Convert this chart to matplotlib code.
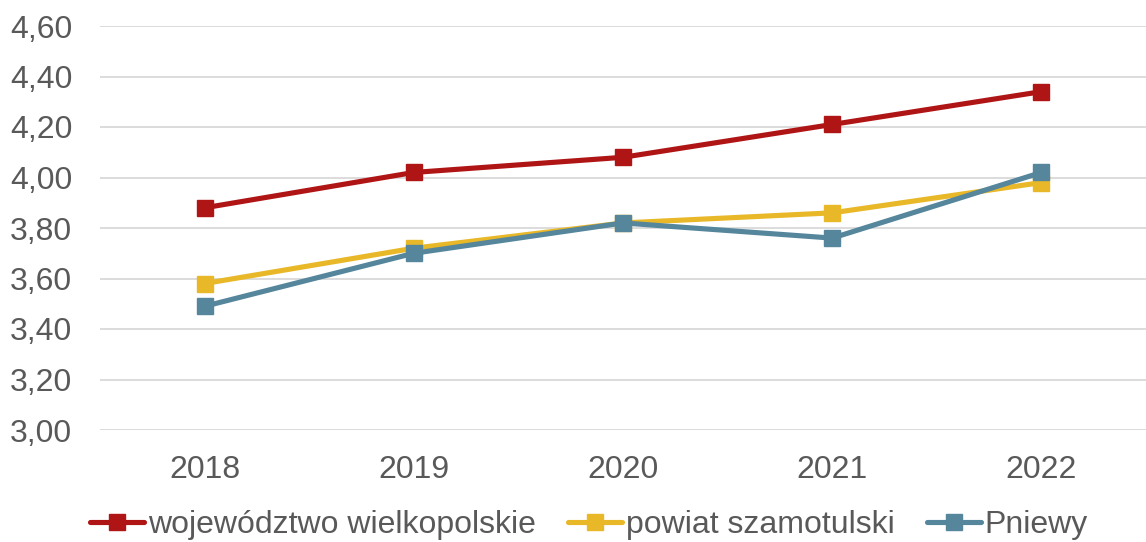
import numpy as np
import matplotlib.pyplot as plt
from matplotlib.ticker import FuncFormatter

plt.rcParams['font.family'] = ['Liberation Sans', 'DejaVu Sans']

# years and series values
years = ['2018', '2019', '2020', '2021', '2022']
wielkopolskie = [3.88, 4.02, 4.08, 4.21, 4.34]
szamotulski = [3.58, 3.72, 3.82, 3.86, 3.98]
pniewy = [3.49, 3.70, 3.82, 3.76, 4.02]

series = [
    ('województwo wielkopolskie', wielkopolskie, '#B01516'),
    ('powiat szamotulski', szamotulski, '#E8B829'),
    ('Pniewy', pniewy, '#55869C'),
]

W, H = 1146, 542
fig = plt.figure(figsize=(W / 100, H / 100), dpi=100)
ax = fig.add_axes([100 / W, (H - 430) / H, 1046 / W, 404 / H])

x = np.arange(len(years))
for name, vals, col in series:
    ax.plot(x, vals, color=col, lw=3.7, marker='s', markersize=11,
            label=name, solid_capstyle='round')

ax.set_ylim(3.0, 4.6)
ax.set_xlim(-0.5, len(years) - 0.5)
ax.set_yticks(np.arange(3.0, 4.61, 0.2))
ax.yaxis.set_major_formatter(FuncFormatter(lambda v, p: f'{v:.2f}'.replace('.', ',')))
ax.set_xticks(x)
ax.set_xticklabels(years)

ax.grid(axis='y', color='#D9D9D9', lw=1.3)
ax.set_axisbelow(True)
for s in ax.spines.values():
    s.set_visible(False)
ax.tick_params(length=0, labelsize=23, colors='#595959')
ax.tick_params(axis='y', pad=20)
ax.tick_params(axis='x', pad=18)

# legend along the bottom edge
leg = fig.legend(loc='lower center', bbox_to_anchor=(0.5 + 16 / W, -0.05), ncol=3,
                 frameon=False, fontsize=23, handlelength=1.7, handletextpad=0.12,
                 columnspacing=1.0)
for t in leg.get_texts():
    t.set_color('#595959')

fig.savefig('out.png', dpi=100)
